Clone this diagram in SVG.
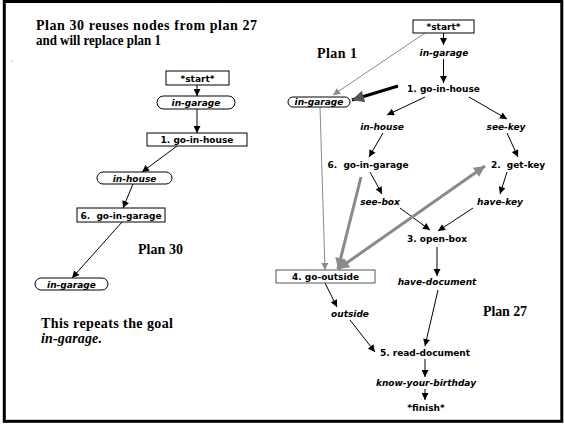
<svg xmlns="http://www.w3.org/2000/svg" width="564" height="424" viewBox="0 0 564 424">
  <style>
    .serif { font-family: "Liberation Serif", "Times New Roman", serif; font-weight: bold; font-size: 14px; fill: #000; }
    .ital { font-style: italic; }
    .lbl { font-family: "DejaVu Sans", Verdana, sans-serif; font-weight: bold; font-size: 9px; fill: #000; text-anchor: middle; white-space: pre; }
    .cond { font-style: oblique; }
    .box { fill: #fff; stroke: #000; stroke-width: 1; }
    .gbox { fill: #fff; stroke: #555; stroke-width: 1; }
    .e { stroke: #000; stroke-width: 1; fill: none; marker-end: url(#ah); }
    .g { stroke: #8a8a8a; stroke-width: 1; fill: none; marker-end: url(#gh); }
    .gt { stroke: #8a8a8a; stroke-width: 3; fill: none; marker-end: url(#gth); }
    .bt { stroke: #000; stroke-width: 3; fill: none; marker-end: url(#bth); }
  </style>
  <defs>
    <marker id="ah" viewBox="0 0 10 10" refX="10" refY="5" markerWidth="8" markerHeight="7" markerUnits="userSpaceOnUse" orient="auto">
      <path d="M0,0 L10,5 L0,10 z" fill="#000"/>
    </marker>
    <marker id="gh" viewBox="0 0 10 10" refX="10" refY="5" markerWidth="8" markerHeight="7" markerUnits="userSpaceOnUse" orient="auto">
      <path d="M0,0 L10,5 L0,10 z" fill="#8a8a8a"/>
    </marker>
    <marker id="gth" viewBox="0 0 10 10" refX="10" refY="5" markerWidth="14" markerHeight="11" markerUnits="userSpaceOnUse" orient="auto-start-reverse">
      <path d="M0,0 L10,5 L0,10 z" fill="#8a8a8a"/>
    </marker>
    <marker id="bth" viewBox="0 0 10 10" refX="10" refY="5" markerWidth="13" markerHeight="12" markerUnits="userSpaceOnUse" orient="auto">
      <path d="M0,0 L10,5 L0,10 z" fill="#555"/>
    </marker>
  </defs>

  <!-- frame -->
  <rect x="4.3" y="1.5" width="557.5" height="419.8" fill="#fff" stroke="#000" stroke-width="3"/>
  <circle cx="12" cy="61" r="0.6" fill="#888"/>

  <!-- captions -->
  <text class="serif" x="36" y="29.5" font-size="14.5" textLength="221">Plan 30 reuses nodes from plan 27</text>
  <text class="serif" x="36" y="44.5" font-size="14" textLength="125" lengthAdjust="spacingAndGlyphs">and will replace plan 1</text>
  <text class="serif" x="138" y="254" textLength="45">Plan 30</text>
  <text class="serif" x="41" y="327.5" textLength="132">This repeats the goal</text>
  <text class="serif ital" x="41" y="343" textLength="61">in-garage.</text>
  <text class="serif" x="317" y="58" textLength="40">Plan 1</text>
  <text class="serif" x="483" y="315.5" textLength="44">Plan 27</text>

  <!-- connectors -->
  <g id="connectors">
    <!-- plan 30 -->
    <line class="e" x1="197" y1="85" x2="197" y2="96"/>
    <line class="e" x1="197" y1="109" x2="197" y2="133"/>
    <line class="e" x1="177" y1="146" x2="142" y2="172"/>
    <line class="e" x1="133" y1="184" x2="123" y2="208"/>
    <line class="e" x1="122" y1="222" x2="72" y2="278"/>

    <!-- plan 27 -->
    <line class="e" x1="443.5" y1="33" x2="443.5" y2="45"/>
    <line class="e" x1="443.5" y1="59" x2="443.5" y2="83"/>
    <line class="e" x1="425" y1="97" x2="387" y2="115"/>
    <line class="e" x1="469" y1="97" x2="507" y2="119"/>
    <line class="e" x1="383" y1="133" x2="369" y2="157"/>
    <line class="e" x1="507" y1="133" x2="518" y2="157"/>
    <line class="e" x1="370" y1="172" x2="382" y2="194"/>
    <line class="e" x1="507" y1="172" x2="500" y2="194"/>
    <line class="e" x1="400" y1="208" x2="430" y2="230"/>
    <line class="e" x1="473" y1="208" x2="438" y2="231"/>
    <line class="e" x1="437" y1="247" x2="437" y2="276"/>
    <line class="e" x1="438" y1="290" x2="425" y2="346"/>
    <line class="e" x1="325" y1="283" x2="337" y2="307"/>
    <line class="e" x1="350" y1="320" x2="375" y2="352"/>
    <line class="e" x1="425" y1="359" x2="425" y2="377"/>
    <line class="e" x1="425" y1="389" x2="425" y2="400"/>

    <!-- plan 1 links -->
    <line class="g" x1="425" y1="33" x2="333" y2="95"/>
    <line class="g" x1="320" y1="107" x2="325" y2="270"/>
    <line class="bt" x1="398" y1="86" x2="352" y2="100"/>
    <line class="gt" x1="361" y1="177" x2="338" y2="269"/>
    <line class="gt" x1="338" y1="269" x2="485" y2="166" marker-start="url(#gth)"/>
  </g>

  <!-- plan 30 nodes -->
  <g id="p30-start">
    <rect class="box" x="166" y="71" width="63" height="14"/>
    <text class="lbl" x="197.5" y="81.5">*start*</text>
  </g>
  <g id="p30-in-garage-1">
    <rect class="box" x="157" y="96" width="78" height="13" rx="6.5"/>
    <text class="lbl cond" x="196" y="106">in-garage</text>
  </g>
  <g id="p30-go-in-house">
    <rect class="box" x="147" y="133" width="100" height="13"/>
    <text class="lbl" x="197" y="143">1. go-in-house</text>
  </g>
  <g id="p30-in-house">
    <rect class="box" x="97" y="172" width="75" height="12" rx="6"/>
    <text class="lbl cond" x="134.5" y="181.5">in-house</text>
  </g>
  <g id="p30-go-in-garage">
    <rect class="box" x="77" y="208" width="88" height="14"/>
    <text class="lbl" x="121" y="218.5">6.  go-in-garage</text>
  </g>
  <g id="p30-in-garage-2">
    <rect class="box" x="35" y="278" width="73" height="12" rx="6"/>
    <text class="lbl cond" x="71.5" y="287.5">in-garage</text>
  </g>

  <!-- plan 27 / plan 1 nodes -->
  <g id="p27-start">
    <rect class="box" x="413" y="20" width="61" height="13"/>
    <text class="lbl" x="443.5" y="30">*start*</text>
  </g>
  <g id="p27-in-garage">
    <text class="lbl cond" x="444" y="55.5">in-garage</text>
  </g>
  <g id="p27-go-in-house">
    <text class="lbl" x="443.5" y="92">1. go-in-house</text>
  </g>
  <g id="p1-in-garage">
    <rect class="box" x="288" y="97" width="62" height="10" rx="5"/>
    <text class="lbl cond" x="319" y="105.3">in-garage</text>
  </g>
  <g id="p27-in-house">
    <text class="lbl cond" x="382" y="130">in-house</text>
  </g>
  <g id="p27-see-key">
    <text class="lbl cond" x="506" y="130">see-key</text>
  </g>
  <g id="p27-go-in-garage">
    <text class="lbl" x="368" y="168">6.  go-in-garage</text>
  </g>
  <g id="p27-get-key">
    <text class="lbl" x="518" y="168">2.  get-key</text>
  </g>
  <g id="p27-see-box">
    <text class="lbl cond" x="380" y="205">see-box</text>
  </g>
  <g id="p27-have-key">
    <text class="lbl cond" x="500" y="205">have-key</text>
  </g>
  <g id="p27-open-box">
    <text class="lbl" x="437" y="242">3. open-box</text>
  </g>
  <g id="p27-have-document">
    <text class="lbl cond" x="437" y="285">have-document</text>
  </g>
  <g id="p1-go-outside">
    <rect class="gbox" x="276" y="270" width="99" height="13"/>
    <text class="lbl" x="325.5" y="280">4. go-outside</text>
  </g>
  <g id="p27-outside">
    <text class="lbl cond" x="350" y="316.5">outside</text>
  </g>
  <g id="p27-read-document">
    <text class="lbl" x="425" y="356">5. read-document</text>
  </g>
  <g id="p27-know-your-birthday">
    <text class="lbl cond" x="426" y="386">know-your-birthday</text>
  </g>
  <g id="p27-finish">
    <text class="lbl" x="426" y="411">*finish*</text>
  </g>
</svg>
